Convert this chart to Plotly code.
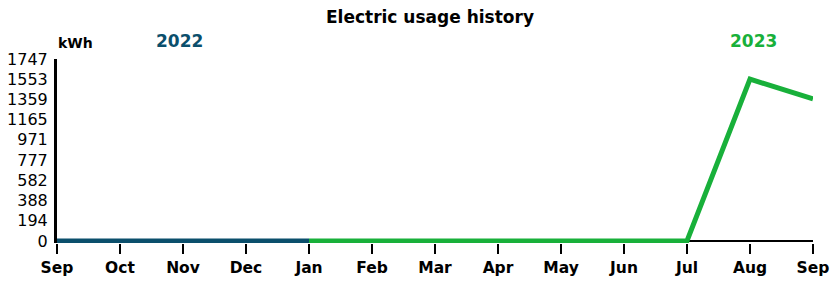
import plotly.graph_objects as go

months = ["Sep", "Oct", "Nov", "Dec", "Jan", "Feb", "Mar", "Apr", "May", "Jun", "Jul", "Aug", "Sep"]
x_2022 = [0, 1, 2, 3, 4]
usage_2022 = [0, 0, 0, 0, 0]
x_2023 = [4, 5, 6, 7, 8, 9, 10, 11, 12]
usage_2023 = [0, 0, 0, 0, 0, 0, 0, 1553, 1365]
y_ticks = [0, 194, 388, 582, 777, 971, 1165, 1359, 1553, 1747]
y_max = 1747

TEAL = "#0b4f6c"
GREEN = "#18b03a"
FONT = "DejaVu Sans, Liberation Sans, Arial, sans-serif"

W, H = 832, 282

fig = go.Figure()
fig.add_trace(go.Scatter(x=x_2022, y=usage_2022, mode="lines",
                         line=dict(color=TEAL, width=5), cliponaxis=False,
                         hoverinfo="skip", showlegend=False))
fig.add_trace(go.Scatter(x=x_2023, y=usage_2023, mode="lines",
                         line=dict(color=GREEN, width=5), cliponaxis=False,
                         hoverinfo="skip", showlegend=False))

fig.update_layout(
    width=W, height=H,
    margin=dict(l=57, r=19, t=59, b=39, autoexpand=False),
    paper_bgcolor="white", plot_bgcolor="white",
    font=dict(family=FONT, color="black"),
    title=dict(text="<b>Electric usage history</b>", x=430 / W, xanchor="center",
               y=1 - 17 / H, yanchor="middle", font=dict(size=17, family=FONT)),
    xaxis=dict(range=[0, 12], tickmode="array", tickvals=list(range(len(months))),
               ticktext=["<b>%s</b>" % m for m in months], automargin=False,
               showgrid=False, zeroline=False, showline=False,
               ticks="outside", ticklen=10, tickwidth=2, tickcolor="black",
               tickfont=dict(size=15.5, family=FONT)),
    yaxis=dict(range=[-20, y_max], tickmode="array", tickvals=y_ticks,
               ticktext=[str(v) for v in y_ticks], automargin=False,
               showgrid=False, zeroline=True, zerolinecolor="black", zerolinewidth=2,
               showline=True, linecolor="black", ticklabelstandoff=3,
               linewidth=3, ticks="", tickfont=dict(size=16, family=FONT),
               layer="below traces"),
    annotations=[
        dict(text="<b>kWh</b>", xref="paper", yref="paper", x=0.0, y=1.0,
             xanchor="left", yanchor="bottom", yshift=6, xshift=-1, showarrow=False,
             font=dict(size=14, family=FONT, color="black")),
        dict(text="<b>2022</b>", xref="x", yref="paper", x=1.95, y=1.0,
             xanchor="center", yanchor="bottom", yshift=6, showarrow=False,
             font=dict(size=17, family=FONT, color=TEAL)),
        dict(text="<b>2023</b>", xref="x", yref="paper", x=11.05, y=1.0,
             xanchor="center", yanchor="bottom", yshift=6, showarrow=False,
             font=dict(size=17, family=FONT, color=GREEN)),
    ],
)

fig.write_html("out.html", config={"displayModeBar": False},
               post_script="document.body.style.margin='0';document.body.style.overflow='hidden';")
